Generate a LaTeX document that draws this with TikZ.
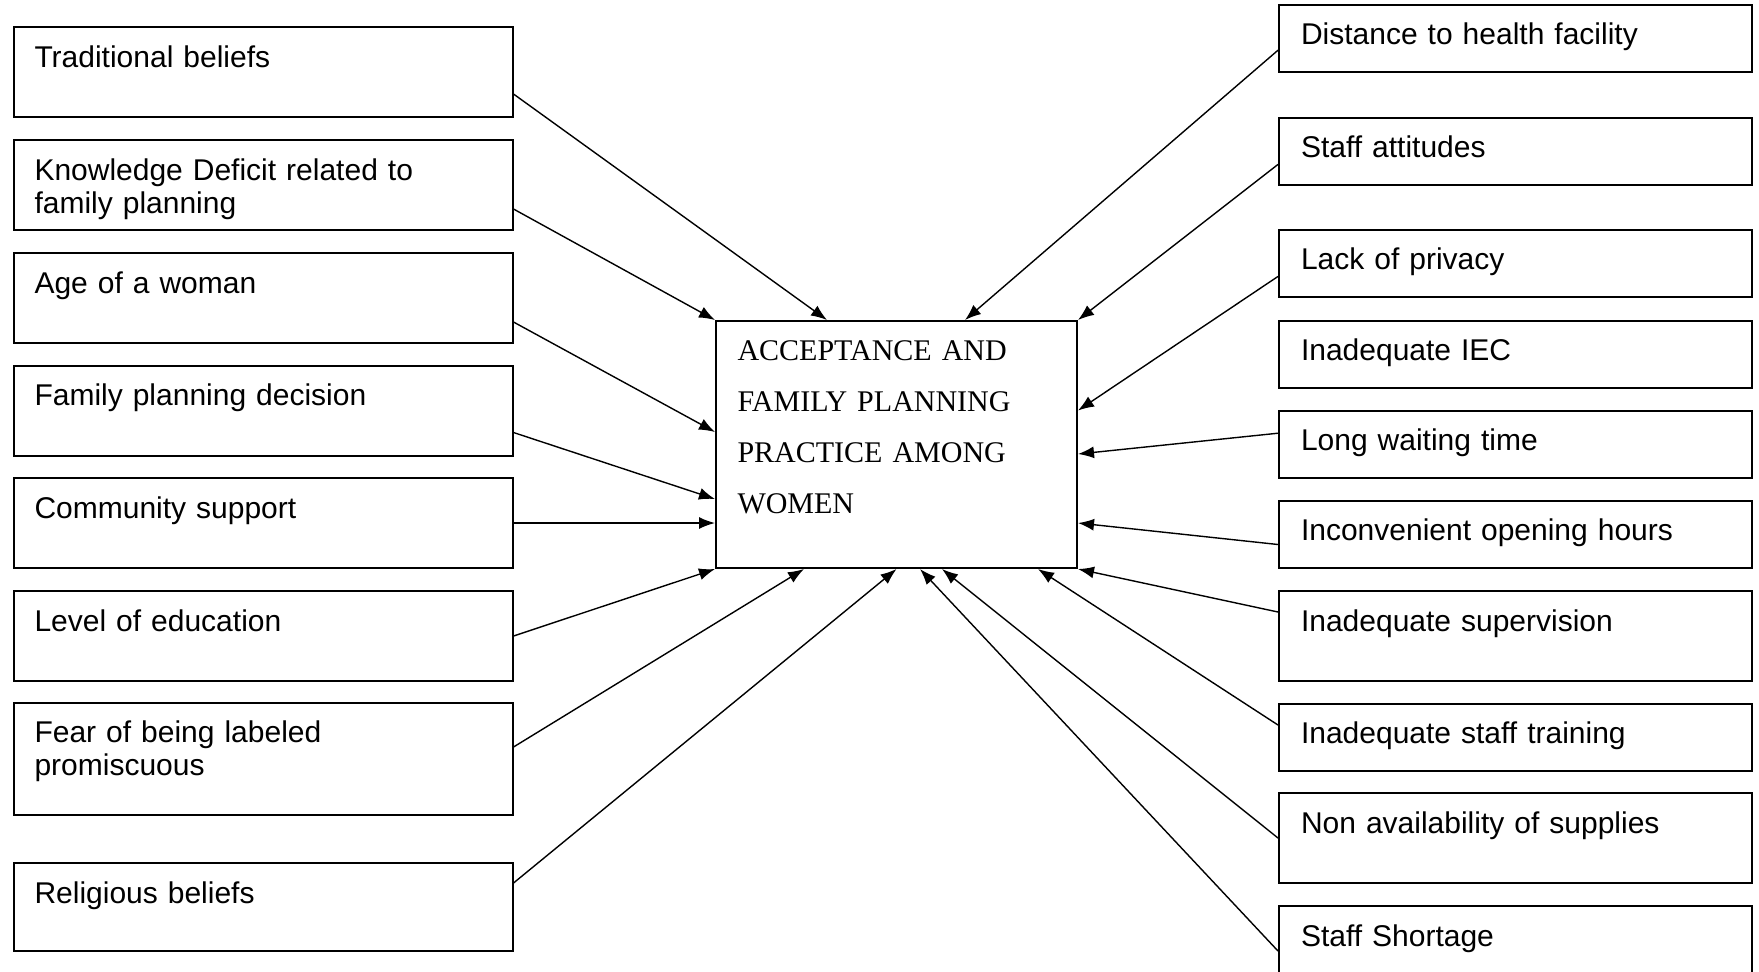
\documentclass[tikz,border=0pt]{standalone}
\usepackage{fontspec}
\setmainfont{Liberation Sans}
\newfontfamily\accserif{Liberation Serif}
\usepackage{tikz}
\usetikzlibrary{shapes,arrows.meta}
\tikzstyle{factor} = [rectangle, draw, line width=1pt, text width=228.5pt, align=left,
    inner xsep=10.5pt, inner ysep=0pt, text height=20pt, text depth=25pt,
    font=\fontsize{15pt}{16.5pt}\selectfont]
\tikzstyle{rfactor} = [factor, text width=214.5pt, inner xsep=11pt]
\tikzstyle{shortfactor} = [rfactor, text depth=13.5pt]
\tikzstyle{centre} = [rectangle, draw, line width=1pt, text width=159pt, align=left,
    inner xsep=10.75pt, inner ysep=0pt, text height=19.5pt, text depth=104pt,
    font=\accserif\fontsize{15pt}{25.5pt}\selectfont]
\tikzstyle{line} = [draw, line width=0.7pt, -{Latex[length=8pt,width=6pt]}]

\begin{document}
\begin{tikzpicture}[node distance = 56.5pt, auto]
    \useasboundingbox (0,0) rectangle (879.5pt,-485.5pt);
    % Place nodes
    \node [centre] (accept) at (448.25pt,-222.25pt) {ACCEPTANCE AND\\FAMILY PLANNING\\PRACTICE AMONG\\WOMEN};
    \node [factor] (trad) at (131.5pt,-36pt) {Traditional beliefs};
    \node [factor, below of=trad] (knowledge) {Knowledge Deficit related to\\family planning};
    \node [factor, below of=knowledge] (age) {Age of a woman};
    \node [factor, below of=age, node distance=56.25pt] (decision) {Family planning decision};
    \node [factor, below of=decision, node distance=56.25pt] (community) {Community support};
    \node [factor, below of=community] (education) {Level of education};
    \node [factor, below of=education, node distance=61.5pt, text depth=36.25pt] (fear) {Fear of being labeled\\promiscuous};
    \node [factor, below of=fear, node distance=74pt, text depth=24pt] (religion) {Religious beliefs};
    \node [shortfactor] (distance) at (757.75pt,-19.1pt) {Distance to health facility};
    \node [shortfactor, below of=distance, node distance=56.6pt] (attitude) {Staff attitudes};
    \node [shortfactor, below of=attitude, node distance=56pt] (privacy) {Lack of privacy};
    \node [shortfactor, below of=privacy, node distance=45.5pt] (iec) {Inadequate IEC};
    \node [shortfactor, below of=iec, node distance=44.9pt] (waiting) {Long waiting time};
    \node [shortfactor, below of=waiting, node distance=44.9pt] (hours) {Inconvenient opening hours};
    \node [rfactor, below of=hours, node distance=51pt] (supervision) {Inadequate supervision};
    \node [shortfactor, below of=supervision, node distance=50.5pt] (training) {Inadequate staff training};
    \node [rfactor, below of=training, node distance=50.5pt] (supplies) {Non availability of supplies};
    \node [rfactor, below of=supplies] (shortage) {Staff Shortage};

    % Draw edges
    \path [line] ([yshift=-11pt]trad.east) -- ([xshift=-34.75pt]accept.north);
    \path [line] ([yshift=-12pt]knowledge.east) -- (accept.north west);
    \path [line] ([yshift=-12pt]age.east) -- ([yshift=6.25pt]accept.west);
    \path [line] ([yshift=-11pt]decision.east) -- ([yshift=-27.25pt]accept.west);
    \path [line] (community.east) -- ([yshift=-39.25pt]accept.west);
    \path [line] (education.east) -- (accept.south west);
    \path [line] ([yshift=6pt]fear.east) -- ([xshift=-46.25pt]accept.south);
    \path [line] ([yshift=12pt]religion.east) -- (accept.south);
    \path [line] ([yshift=-6pt]distance.west) -- ([xshift=34.25pt]accept.north);
    \path [line] ([yshift=-6.5pt]attitude.west) -- (accept.north east);
    \path [line] ([yshift=-6.5pt]privacy.west) -- ([yshift=17pt]accept.east);
    \path [line] ([yshift=5.5pt]waiting.west) -- ([yshift=-4.75pt]accept.east);
    \path [line] ([yshift=-5.25pt]hours.west) -- ([yshift=-39.25pt]accept.east);
    \path [line] ([yshift=12pt]supervision.west) -- (accept.south east);
    \path [line] ([yshift=6pt]training.west) -- ([xshift=70.75pt]accept.south);
    \path [line] (supplies.west) -- ([xshift=22.75pt]accept.south);
    \path [line] (shortage.west) -- ([xshift=11.75pt]accept.south);
\end{tikzpicture}
\end{document}
